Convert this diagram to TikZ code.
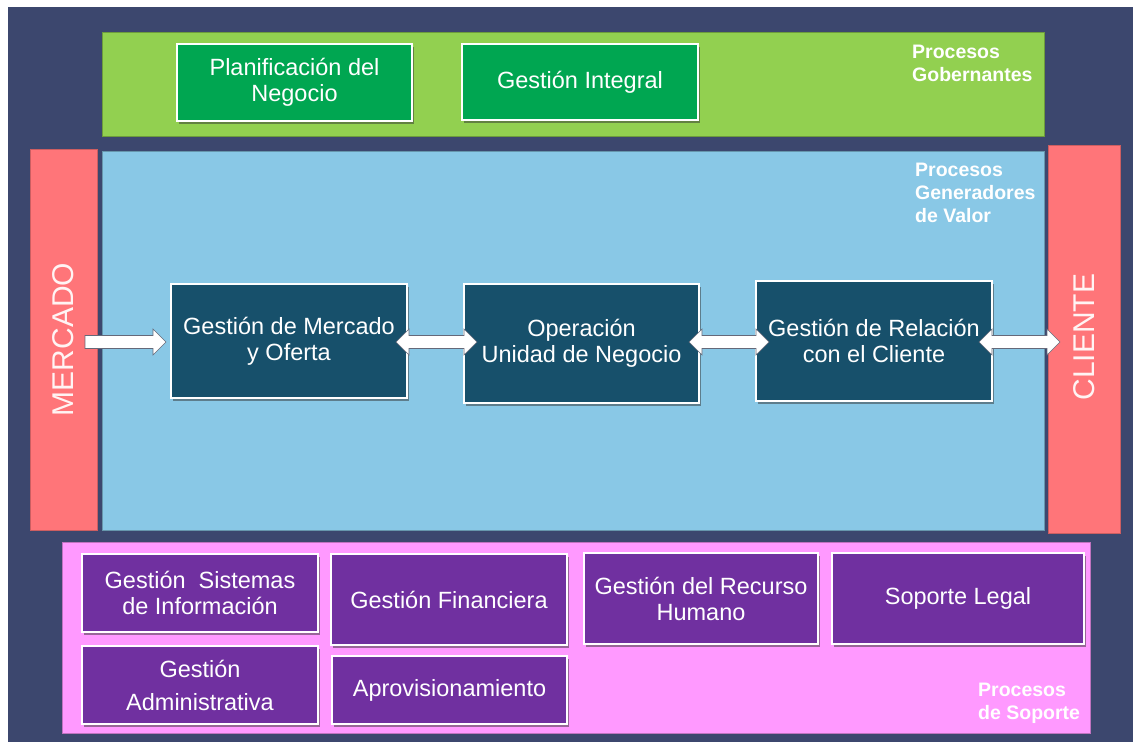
\documentclass[tikz,border=0pt]{standalone}
\usepackage{fontspec}
\setmainfont{Liberation Sans}
\usetikzlibrary{calc,shadows}
\definecolor{bgdark}{HTML}{3C476E}
\definecolor{bandgreen}{HTML}{92D050}
\definecolor{boxgreen}{HTML}{00A651}
\definecolor{bandblue}{HTML}{89C8E6}
\definecolor{boxteal}{HTML}{17506B}
\definecolor{sidepink}{HTML}{FF7579}
\definecolor{bandpink}{HTML}{FF99FF}
\definecolor{boxpurple}{HTML}{7030A0}
\tikzset{
  box/.style={draw=white, line width=2.6pt, inner sep=0pt, outer sep=0pt, align=center,
    text=white, font=\fontsize{23.5}{26}\selectfont,
    drop shadow={shadow xshift=1.5pt, shadow yshift=-2.5pt, opacity=0.5, fill=black!80}},
  gbox/.style={box, fill=boxgreen},
  tbox/.style={box, fill=boxteal},
  pbox/.style={box, fill=boxpurple},
  band/.style={inner sep=0pt, outer sep=0pt, line width=0.6pt},
  plabel/.style={text=white, font=\bfseries\fontsize{19.5}{23}\selectfont, align=left,
    anchor=north west, inner sep=0pt},
  sidetext/.style={rotate=90, text=white!92!sidepink, font=\fontsize{30}{30}\selectfont},
  arrowbody/.style={fill=white, draw=gray!60!bgdark, line width=0.6pt, line join=miter},
}
\newcommand\sarrow[2]{%
  \draw[arrowbody] let \p1=#1, \p2=#2 in
    (\x1,\y1+6.5pt) -- (\x2-13pt,\y2+6.5pt) -- (\x2-13pt,\y2+13pt) -- (\x2,\y2)
    -- (\x2-13pt,\y2-13pt) -- (\x2-13pt,\y2-6.5pt) -- (\x1,\y1-6.5pt) -- cycle;}
\newcommand\darrow[2]{%
  \draw[arrowbody] let \p1=#1, \p2=#2 in
    (\x1,\y1) -- (\x1+13pt,\y1+13pt) -- (\x1+13pt,\y1+6.5pt) -- (\x2-13pt,\y2+6.5pt)
    -- (\x2-13pt,\y2+13pt) -- (\x2,\y2) -- (\x2-13pt,\y2-13pt) -- (\x2-13pt,\y2-6.5pt)
    -- (\x1+13pt,\y1-6.5pt) -- (\x1+13pt,\y1-13pt) -- cycle;}
\begin{document}
\begin{tikzpicture}[x=1pt,y=-1pt]
\useasboundingbox (0,0) rectangle (1133,742);
\fill[white] (0,0) rectangle (1133,742);
\fill[bgdark] (8,7) rectangle (1133,742);

% bands
\node[band, fill=bandgreen, draw=bandgreen!75!black, minimum width=942pt, minimum height=104pt] (gov) at (573,84) {};
\node[band, fill=bandblue, draw=bandblue!75!black, minimum width=942pt, minimum height=379pt] (val) at (573,340.5) {};
\node[band, fill=sidepink, draw=sidepink!80!black, minimum width=67pt, minimum height=381pt] (merc) at (63.5,339.5) {};
\node[band, fill=sidepink, draw=sidepink!80!black, minimum width=72pt, minimum height=388pt] (cli) at (1084,339) {};
\node[band, fill=bandpink, draw=bandpink!75!black, minimum width=1028pt, minimum height=191pt] (sup) at (576,637.5) {};

\node[sidetext] (mtxt) at (merc.center) {MERCADO};
\node[sidetext] (ctxt) at ([yshift=2pt]cli.center) {CLIENTE};

% labels
\node[plabel] (lgov) at (912,45) {Procesos\\Gobernantes};
\node[plabel] (lval) at (915,163) {Procesos\\Generadores\\de Valor};
\node[plabel] (lsup) at (978,683) {Procesos\\de Soporte};

% governing boxes
\node[gbox, minimum width=235pt, minimum height=77pt] (plan) at (294.5,82.5) {Planificación del\\Negocio};
\node[gbox, minimum width=236pt, minimum height=76pt] (integ) at (580,82) {Gestión Integral};

% value boxes
\node[tbox, minimum width=236pt, minimum height=114pt] (gm) at (289,341) {Gestión de Mercado\\y Oferta};
\node[tbox, minimum width=235pt, minimum height=119pt] (op) at (581.5,343.5) {Operación\\Unidad de Negocio};
\node[tbox, minimum width=236pt, minimum height=120pt] (rel) at (874,341) {Gestión de Relación\\con el Cliente};

% support boxes
\node[pbox, minimum width=236pt, minimum height=78pt] (gsi) at (200,593) {Gestión\ \ Sistemas\\de Información};
\node[pbox, minimum width=236pt, minimum height=91pt] (fin) at (449,599.5) {Gestión Financiera};
\node[pbox, minimum width=234pt, minimum height=91pt] (rh) at (701,598.5) {Gestión del Recurso\\Humano};
\node[pbox, minimum width=252pt, minimum height=91pt] (legal) at (958,598.5) {Soporte Legal};
\node[pbox, minimum width=236pt, minimum height=78pt, font=\fontsize{23.5}{33}\selectfont] (adm) at (200,685) {Gestión\\Administrativa};
\node[pbox, minimum width=235pt, minimum height=68pt] (aprov) at (449.5,690) {Aprovisionamiento};

% arrows
\coordinate (m0) at (merc.east |- gm.west);
\coordinate (a1s) at ($(m0)+(-12,1)$);
\coordinate (a1e) at ($(gm.west)+(-5,1)$);
\coordinate (a2s) at ($(gm.east)+(-11,1)$);
\coordinate (a2e) at ($(op.west |- a2s)+(13,0)$);
\coordinate (a3s) at ($(op.east |- a2s)+(-10,0)$);
\coordinate (a3e) at ($(rel.west |- a2s)+(13,0)$);
\coordinate (a4s) at ($(rel.east |- a2s)+(-13,0)$);
\coordinate (a4e) at ($(cli.west |- a2s)+(12,0)$);
\sarrow{(a1s)}{(a1e)}
\darrow{(a2s)}{(a2e)}
\darrow{(a3s)}{(a3e)}
\darrow{(a4s)}{(a4e)}
\end{tikzpicture}
\end{document}
